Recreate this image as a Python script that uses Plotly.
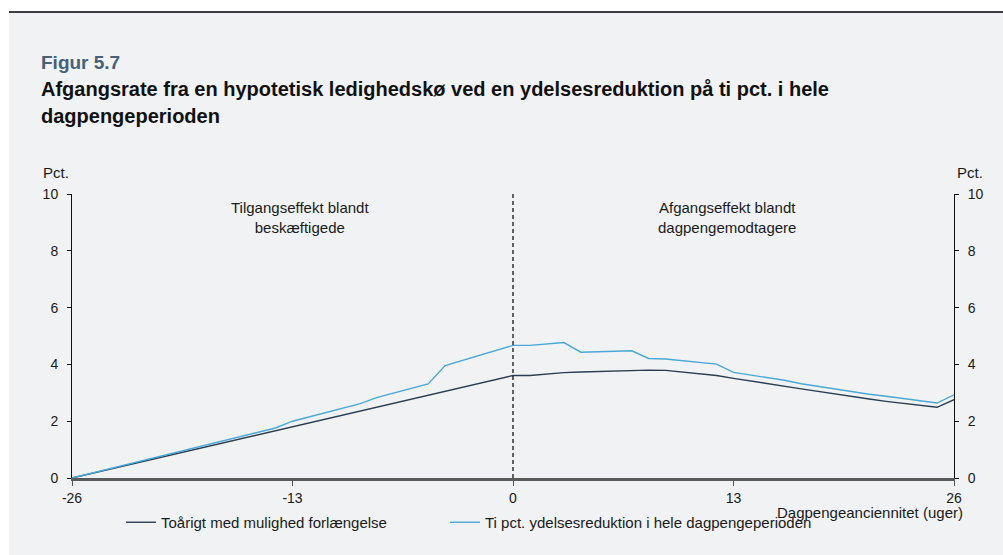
import plotly.graph_objects as go

# ---- data ----
weeks_base = [-26, 0, 1, 3, 4, 8, 9, 12, 13, 16, 17, 21, 22, 25, 26]
rate_base = [0.0, 3.61, 3.61, 3.71, 3.73, 3.80, 3.79, 3.61, 3.51, 3.25, 3.14, 2.78, 2.70, 2.49, 2.76]

weeks_cut = [-26, -14, -13, -9, -8, -5, -4, 0, 1, 3, 4, 7, 8, 9, 12, 13, 16, 17, 21, 22, 25, 26]
rate_cut = [0.0, 1.76, 2.00, 2.62, 2.84, 3.31, 3.96, 4.67, 4.67, 4.77, 4.43, 4.48, 4.21, 4.19, 4.01, 3.72,
            3.44, 3.32, 2.95, 2.88, 2.64, 2.93]

name_base = "Toårigt med mulighed forlængelse"
name_cut = "Ti pct. ydelsesreduktion i hele dagpengeperioden"
x_ticks = [-26, -13, 0, 13, 26]
x_ticktext = ["-26", "-13", "0", "13", "26"]
y_ticks = [0, 2, 4, 6, 8, 10]

# ---- layout geometry (pixels) ----
W, H = 1003, 555
L, R, T, B = 72, 49, 194, 77
PW, PH = W - L - R, H - T - B


def px(x):
    return (x - L) / PW


def py(y):
    return (H - B - y) / PH


FONT = "Liberation Sans, Arial, sans-serif"
DARK = "#2b3d50"
LIGHT = "#4aa7d6"
BG = "#f1f2f4"
TXT = "#1a1a1a"

fig = go.Figure()
fig.add_trace(go.Scatter(x=weeks_base, y=rate_base, mode="lines", name=name_base,
                         legend="legend", line=dict(color=DARK, width=1.4)))
fig.add_trace(go.Scatter(x=weeks_cut, y=rate_cut, mode="lines", name=name_cut,
                         legend="legend2", line=dict(color=LIGHT, width=1.4)))
# invisible trace to activate the right axis
fig.add_trace(go.Scatter(x=[0], y=[0], yaxis="y2", mode="lines", showlegend=False,
                         hoverinfo="skip", line=dict(width=0)))

axis_font = dict(family=FONT, size=14, color=TXT)
leg_common = dict(orientation="h", xanchor="left", yanchor="top",
                  font=dict(family=FONT, size=15, color=TXT),
                  bgcolor="rgba(0,0,0,0)", itemwidth=30)

fig.update_layout(
    width=W, height=H,
    margin=dict(l=L, r=R, t=T, b=B),
    paper_bgcolor=BG, plot_bgcolor=BG,
    font=dict(family=FONT, color=TXT),
    showlegend=True,
    legend=dict(x=px(121), y=py(506), **leg_common),
    legend2=dict(x=px(445), y=py(506), **leg_common),
    xaxis=dict(range=[-26, 26], tickvals=x_ticks, ticktext=x_ticktext, ticks="outside", ticklen=5,
               tickcolor="#555", showgrid=False, zeroline=False,
               showline=True, linecolor="#5a5a5a", linewidth=2.5,
               tickfont=axis_font),
    yaxis=dict(range=[0, 10], tickvals=y_ticks, ticks="outside", ticklen=4,
               tickcolor="#111", showgrid=False, zeroline=False, ticklabelstandoff=6,
               showline=True, linecolor="#111", linewidth=1, tickfont=axis_font),
    yaxis2=dict(range=[0, 10], tickvals=y_ticks, ticks="outside", ticklen=4,
                tickcolor="#111", overlaying="y", side="right", showgrid=False,
                zeroline=False, showline=True, linecolor="#111", linewidth=1,
                ticklabelstandoff=6, tickfont=axis_font),
)

shapes = [
    # white strip above / left of gray panel
    dict(type="rect", xref="paper", yref="paper", x0=px(0), x1=px(W), y0=py(12), y1=py(0),
         fillcolor="white", line=dict(width=0), layer="below"),
    dict(type="rect", xref="paper", yref="paper", x0=px(0), x1=px(9), y0=py(H), y1=py(0),
         fillcolor="white", line=dict(width=0), layer="below"),
    # top rule
    dict(type="line", xref="paper", yref="paper", x0=px(9), x1=px(W), y0=py(12), y1=py(12),
         line=dict(color="black", width=1.6)),
    # dashed divider at week 0
    dict(type="line", xref="x", yref="paper", x0=0, x1=0, y0=0, y1=1,
         line=dict(color="black", width=1.2, dash="4px,3px")),
]
fig.update_layout(shapes=shapes)

ann = [
    dict(text="<b>Figur 5.7</b>", x=px(39), y=py(62), xanchor="left", yanchor="middle",
         font=dict(size=19, color="#456078", family=FONT)),
    dict(text="<b>Afgangsrate fra en hypotetisk ledighedskø ved en ydelsesreduktion på ti pct. i hele</b>",
         x=px(39), y=py(89), xanchor="left", yanchor="middle",
         font=dict(size=20, color="#111", family=FONT)),
    dict(text="<b>dagpengeperioden</b>", x=px(39), y=py(116), xanchor="left", yanchor="middle",
         font=dict(size=20, color="#111", family=FONT)),
    dict(text="Pct.", x=px(56), y=py(172), xanchor="center", yanchor="middle",
         font=dict(size=15, family=FONT, color=TXT)),
    dict(text="Pct.", x=px(970), y=py(172), xanchor="center", yanchor="middle",
         font=dict(size=15, family=FONT, color=TXT)),
    dict(text="Tilgangseffekt blandt<br>beskæftigede", x=px(300), y=py(217),
         xanchor="center", yanchor="middle", font=dict(size=15, family=FONT, color=TXT)),
    dict(text="Afgangseffekt blandt<br>dagpengemodtagere", x=px(727), y=py(217),
         xanchor="center", yanchor="middle", font=dict(size=15, family=FONT, color=TXT)),
    dict(text="Dagpengeanciennitet (uger)", x=px(965), y=py(512), xanchor="right",
         yanchor="middle", font=dict(size=15, family=FONT, color=TXT)),
]
for a in ann:
    a.update(xref="paper", yref="paper", showarrow=False)
fig.update_layout(annotations=ann)

fig.write_html("out.html", config={"displayModeBar": False},
               post_script="document.body.style.margin='0';document.body.style.overflow='hidden';")
